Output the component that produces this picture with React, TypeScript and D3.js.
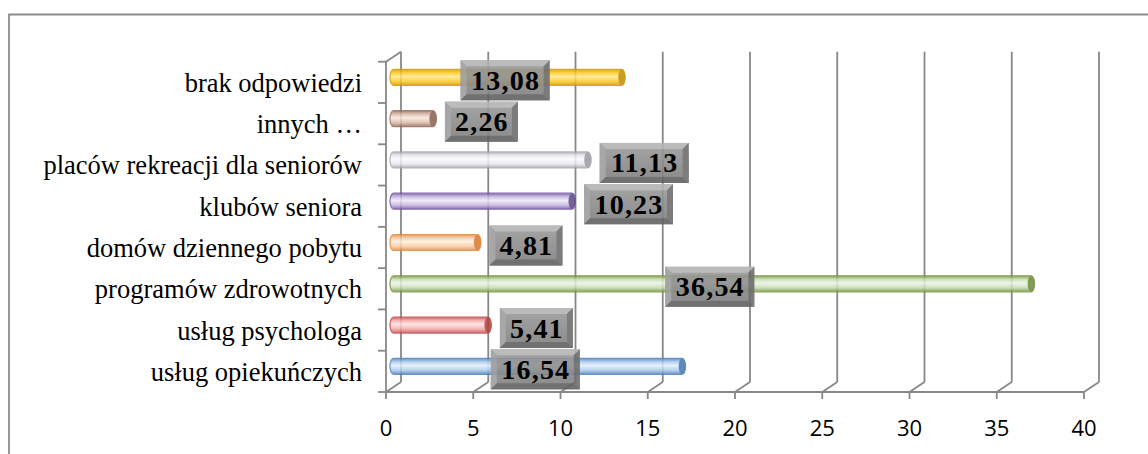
import React from "react";
import * as d3 from "d3";

const categories = [
  "usług opiekuńczych",
  "usług psychologa",
  "programów zdrowotnych",
  "domów dziennego pobytu",
  "klubów seniora",
  "placów rekreacji dla seniorów",
  "innych …",
  "brak odpowiedzi",
];
const values = [16.54, 5.41, 36.54, 4.81, 10.23, 11.13, 2.26, 13.08];
const valueLabels = ["16,54", "5,41", "36,54", "4,81", "10,23", "11,13", "2,26", "13,08"];
// label placement as in the source: centered on the bar or just outside its end
const labelInside = [true, false, true, false, false, false, false, true];
const xTicks = [0, 5, 10, 15, 20, 25, 30, 35, 40];

// colour sets: [edge, body, highlight, end cap]
const palettes = [
  ["#4f81bd", "#a9c9ec", "#e2eefa", "#4575b0"],
  ["#c0504d", "#f2a6a4", "#fde2e2", "#b0403d"],
  ["#77933c", "#c3dcb0", "#ecf5e4", "#6a8a3a"],
  ["#e0883e", "#fbc99c", "#fff0e0", "#d9792a"],
  ["#7356a0", "#c4b4e0", "#eee8f7", "#5e4588"],
  ["#a8a8b0", "#e6e6ec", "#fafafc", "#9a9aa2"],
  ["#956a5a", "#ddb8a6", "#f6e8e0", "#85604f"],
  ["#d29a00", "#ffc924", "#ffe88a", "#c08c00"],
];

const W = 1148;
const H = 454;
const DX = 15;
const DY = -10;

export default function App() {
  const x = d3.scaleLinear().domain([0, 40]).range([386, 1084]);
  const y = d3
    .scaleBand<string>()
    .domain([...categories].reverse())
    .range([61.7, 392])
    .paddingInner(0)
    .paddingOuter(0);
  const bw = y.bandwidth();
  const top = y.range()[0];
  const bottom = y.range()[1];
  const barH = 16;
  const capRx = 3.5;
  const gridColor = "#878787";
  const serif = "'Liberation Serif', 'Times New Roman', Times, serif";

  return (
    <svg
      width={W}
      height={H}
      style={{ position: "absolute", left: 0, top: 0, background: "#fff" }}
    >
      <defs>
        {palettes.map((p, i) => (
          <linearGradient key={i} id={`cyl${i}`} x1="0" y1="0" x2="0" y2="1">
            <stop offset="0" stopColor={p[0]} />
            <stop offset="0.22" stopColor={p[1]} />
            <stop offset="0.45" stopColor={p[2]} />
            <stop offset="0.75" stopColor={p[1]} />
            <stop offset="1" stopColor={p[0]} />
          </linearGradient>
        ))}
        <linearGradient id="boxFace" x1="0" y1="0" x2="0" y2="1">
          <stop offset="0" stopColor="#9c9c9c" />
          <stop offset="1" stopColor="#7e7e7e" />
        </linearGradient>
      </defs>

      {/* outer frame */}
      <path
        d={`M9,${H + 5} L9,14.5 L${W + 5},14.5`}
        fill="none"
        stroke="#8c8c8c"
        strokeWidth={1.8}
      />

      {/* back gridlines + floor diagonals */}
      <g stroke={gridColor} strokeWidth={1.8} fill="none">
        {xTicks.map((t) => (
          <g key={t}>
            <line x1={x(t) + DX} x2={x(t) + DX} y1={top + DY} y2={bottom + DY} />
            <line x1={x(t)} y1={bottom} x2={x(t) + DX} y2={bottom + DY} />
            <line x1={x(t)} x2={x(t)} y1={bottom} y2={bottom + 7} />
          </g>
        ))}
        {/* left wall */}
        <line x1={x(0)} x2={x(0)} y1={top} y2={bottom} />
        <line x1={x(0)} y1={top} x2={x(0) + DX} y2={top + DY} />
        {[...categories, "end"].map((_, i) => (
          <line
            key={i}
            x1={x(0) - 8}
            x2={x(0)}
            y1={top + i * bw}
            y2={top + i * bw}
          />
        ))}
        {/* floor front edge */}
        <line x1={x(0)} x2={x(40)} y1={bottom} y2={bottom} />
      </g>

      {/* cylinder bars */}
      {categories.map((c, i) => {
        const cy = (y(c) as number) + bw / 2 + DY / 2;
        const x0 = x(0) + DX / 2;
        const x1 = x(values[i]) + DX / 2;
        const p = palettes[i];
        const t = cy - barH / 2;
        const b = cy + barH / 2;
        const body = `M${x0},${t} L${x1},${t} A${capRx},${barH / 2} 0 0 1 ${x1},${b} L${x0},${b} A${capRx},${barH / 2} 0 0 1 ${x0},${t} Z`;
        return (
          <g key={c} opacity={0.85}>
            <path d={body} fill={`url(#cyl${i})`} stroke={p[0]} strokeWidth={1.2} />
            <ellipse cx={x1} cy={cy} rx={capRx} ry={barH / 2} fill={p[3]} />
          </g>
        );
      })}

      {/* category labels */}
      {categories.map((c) => (
        <text
          key={c}
          x={362}
          y={(y(c) as number) + bw / 2 + 9.5}
          textAnchor="end"
          fontFamily={serif}
          fontSize={26.5}
          fill="#000"
        >
          {c}
        </text>
      ))}

      {/* x tick labels */}
      {xTicks.map((t) => (
        <text
          key={t}
          x={x(t)}
          y={436}
          textAnchor="middle"
          fontFamily="'Open Sans', sans-serif"
          fontSize={22}
          fill="#000"
        >
          {t}
        </text>
      ))}

      {/* data labels */}
      {categories.map((c, i) => {
        const lbl = valueLabels[i];
        const bwid = lbl.length * 16 + 9;
        const bh = 40;
        const cy = (y(c) as number) + bw / 2 - 2;
        const cx = labelInside[i]
          ? (x(0) + x(values[i])) / 2 + 5
          : x(values[i]) + DX / 2 + 12 + bwid / 2;
        const l = cx - bwid / 2;
        const r = cx + bwid / 2;
        const tp = cy - bh / 2;
        const bt = cy + bh / 2;
        const e = 6;
        return (
          <g key={c}>
            <g opacity={0.9}>
              <rect x={l} y={tp} width={bwid} height={bh} fill="url(#boxFace)" />
              <path d={`M${l},${tp} L${r},${tp} L${r - e},${tp + e} L${l + e},${tp + e} Z`} fill="#b4b4b4" />
              <path d={`M${l},${tp} L${l + e},${tp + e} L${l + e},${bt - e} L${l},${bt} Z`} fill="#9e9e9e" />
              <path d={`M${l},${bt} L${l + e},${bt - e} L${r - e},${bt - e} L${r},${bt} Z`} fill="#626262" />
              <path d={`M${r},${tp} L${r},${bt} L${r - e},${bt - e} L${r - e},${tp + e} Z`} fill="#6e6e6e" />
            </g>
            <text
              x={cx + 0.5}
              y={cy + 9.5}
              textAnchor="middle"
              fontFamily={serif}
              fontWeight="bold"
              fontSize={28}
              letterSpacing={1.2}
              fill="#000"
            >
              {lbl}
            </text>
          </g>
        );
      })}
    </svg>
  );
}
